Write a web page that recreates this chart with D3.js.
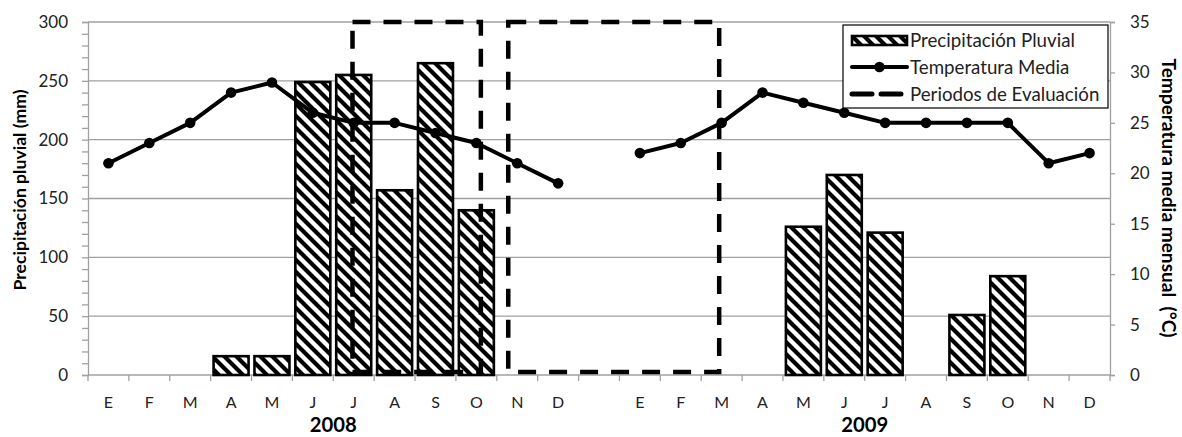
<!DOCTYPE html>
<html>
<head>
<meta charset="utf-8">
<script src="https://cdn.jsdelivr.net/npm/d3@7"></script>
<style>
  html, body { margin: 0; padding: 0; background: #fff; }
  svg { display: block; font-family: Lato, "Open Sans", sans-serif; }
</style>
</head>
<body>
<svg id="chart" width="1182" height="437"></svg>
<script>
// Monthly series, 2008 and 2009 (one empty slot separates the two years on the axis)
const months = ["E", "F", "M", "A", "M", "J", "J", "A", "S", "O", "N", "D"];
const years = ["2008", "2009"];
const precip2008 = [0, 0, 0, 16, 16, 249, 255, 157, 265, 140, 0, 0];
const precip2009 = [0, 0, 0, 0, 126, 170, 121, 0, 51, 84, 0, 0];
const temp2008 = [21, 23, 25, 28, 29, 26, 25, 25, 24, 23, 21, 19];
const temp2009 = [22, 23, 25, 28, 27, 26, 25, 25, 25, 25, 21, 22];

// Evaluation periods, in slot units along the month axis and °C on the right axis
const periodStart = [6.47, 10.28];
const periodEnd = [9.61, 15.44];
const periodLow = [0.3, 0.3];
const periodHigh = [35, 35];

const leftTicks = [0, 50, 100, 150, 200, 250, 300];
const rightTicks = [0, 5, 10, 15, 20, 25, 30, 35];
const legendLabels = ["Precipitación Pluvial", "Temperatura Media", "Periodos de Evaluación"];

// Build the 25 axis slots: 12 months, a blank gap, 12 months
const slots = [];
months.forEach((m, i) => slots.push({ key: "a" + i, label: m, precip: precip2008[i], temp: temp2008[i] }));
slots.push({ key: "gap", label: "", precip: null, temp: null });
months.forEach((m, i) => slots.push({ key: "b" + i, label: m, precip: precip2009[i], temp: temp2009[i] }));

const svg = d3.select("#chart");
const L = 88, R = 1110, T = 22, B = 375;
const axisGray = "#a0a0a0";
const textColor = "#222";

const x = d3.scaleBand().domain(slots.map(d => d.key)).range([L, R]).padding(0);
const xPos = d3.scaleLinear().domain([0, slots.length]).range([L, R]);
const yP = d3.scaleLinear().domain([0, 300]).range([B, T]);
const yT = d3.scaleLinear().domain([0, 35]).range([B, T]);

// Scale a text element's font so its run has the given length
function fitText(sel, len) {
  sel.each(function () {
    const w = this.getComputedTextLength();
    const fs = parseFloat(d3.select(this).attr("font-size"));
    if (w > 0) d3.select(this).attr("font-size", (fs * len / w).toFixed(2));
  });
}

// Diagonal hatch used by the rainfall bars
const defs = svg.append("defs");
const pat = defs.append("pattern")
  .attr("id", "hatch").attr("patternUnits", "userSpaceOnUse")
  .attr("width", 12).attr("height", 12);
pat.append("rect").attr("width", 12).attr("height", 12).attr("fill", "#fff");
pat.append("path")
  .attr("d", "M-3,-3 L15,15 M-3,9 L3,15 M9,-3 L15,3")
  .attr("stroke", "#000").attr("stroke-width", 4.2);

// Horizontal gridlines from the rainfall axis
svg.append("g").selectAll("line").data(leftTicks.filter(v => v > 0)).join("line")
  .attr("x1", L).attr("x2", R)
  .attr("y1", d => yP(d)).attr("y2", d => yP(d))
  .attr("stroke", axisGray).attr("stroke-width", 1.3);

// Left axis
const gL = svg.append("g").attr("transform", `translate(${L},0)`)
  .call(d3.axisLeft(yP).tickValues(d3.range(0, 301, 10)).tickSize(6).tickFormat(""));
gL.select(".domain").attr("stroke", axisGray).attr("stroke-width", 1.3);
gL.selectAll(".tick line").attr("stroke", axisGray).attr("stroke-width", 1.3);
svg.append("g").selectAll("text").data(leftTicks).join("text")
  .attr("x", L - 20).attr("y", d => yP(d)).attr("dy", "0.35em")
  .attr("text-anchor", "end").attr("font-size", 17).attr("fill", textColor)
  .text(d => d);

// Right axis
const gR = svg.append("g").attr("transform", `translate(${R},0)`)
  .call(d3.axisRight(yT).tickValues(rightTicks).tickSize(5).tickFormat(""));
gR.select(".domain").attr("stroke", axisGray).attr("stroke-width", 1.3);
gR.selectAll(".tick line").attr("stroke", axisGray).attr("stroke-width", 1.3);
svg.append("g").selectAll("text").data(rightTicks).join("text")
  .attr("x", R + 20).attr("y", d => yT(d)).attr("dy", "0.35em")
  .attr("text-anchor", "start").attr("font-size", 17).attr("fill", textColor)
  .text(d => d);

// Bottom axis with ticks at slot boundaries
svg.append("line").attr("x1", L).attr("x2", R).attr("y1", B).attr("y2", B)
  .attr("stroke", axisGray).attr("stroke-width", 1.3);
svg.append("g").selectAll("line").data(d3.range(slots.length + 1)).join("line")
  .attr("x1", d => xPos(d)).attr("x2", d => xPos(d))
  .attr("y1", B).attr("y2", B + 6)
  .attr("stroke", axisGray).attr("stroke-width", 1.3);
svg.append("g").selectAll("text").data(slots).join("text")
  .attr("x", d => x(d.key) + x.bandwidth() / 2).attr("y", 402).attr("dy", "0.35em")
  .attr("text-anchor", "middle").attr("font-size", 16).attr("fill", textColor)
  .text(d => d.label);

// Year labels centred between the two J months of each year
svg.append("g").selectAll("text").data(years).join("text")
  .attr("x", (d, i) => xPos(i * 13 + 6)).attr("y", 425).attr("dy", "0.35em")
  .attr("text-anchor", "middle").attr("font-size", 17).attr("font-weight", "bold")
  .attr("fill", "#000").text(d => d)
  .call(fitText, 47);

// Rainfall bars
const barW = x.bandwidth() * 0.856;
svg.append("g").selectAll("rect").data(slots.filter(d => d.precip > 0)).join("rect")
  .attr("x", d => x(d.key) + (x.bandwidth() - barW) / 2)
  .attr("width", barW)
  .attr("y", d => yP(d.precip))
  .attr("height", d => yP(0) - yP(d.precip))
  .attr("fill", "url(#hatch)").attr("stroke", "#000").attr("stroke-width", 2.6);

// Evaluation period boxes
svg.append("g").selectAll("rect").data(periodStart).join("rect")
  .attr("x", (d, i) => xPos(d))
  .attr("width", (d, i) => xPos(periodEnd[i]) - xPos(d))
  .attr("y", (d, i) => yT(periodHigh[i]))
  .attr("height", (d, i) => yT(periodLow[i]) - yT(periodHigh[i]))
  .attr("fill", "none").attr("stroke", "#000").attr("stroke-width", 4.5)
  .attr("stroke-dasharray", "18,13");

// Mean temperature line (broken over the gap between years)
const line = d3.line()
  .defined(d => d.temp != null)
  .x(d => x(d.key) + x.bandwidth() / 2)
  .y(d => yT(d.temp));
svg.append("path").datum(slots).attr("d", line)
  .attr("fill", "none").attr("stroke", "#000").attr("stroke-width", 4)
  .attr("stroke-linejoin", "round");
svg.append("g").selectAll("circle").data(slots.filter(d => d.temp != null)).join("circle")
  .attr("cx", d => x(d.key) + x.bandwidth() / 2).attr("cy", d => yT(d.temp))
  .attr("r", 5.3).attr("fill", "#000");

// Axis titles
svg.append("text")
  .attr("transform", `translate(20,190) rotate(-90)`)
  .attr("dy", "0.35em").attr("text-anchor", "middle")
  .attr("font-size", 16).attr("font-weight", "bold").attr("fill", "#000")
  .text("Precipitación pluvial (mm)")
  .call(fitText, 201);
svg.append("text")
  .attr("transform", `translate(1169,198) rotate(90)`)
  .attr("dy", "0.35em").attr("text-anchor", "middle")
  .attr("font-size", 16).attr("font-weight", "bold").attr("fill", "#000")
  .attr("xml:space", "preserve").style("white-space", "pre")
  .text("Temperatura media mensual  (°C)")
  .call(fitText, 279);

// Legend
const lg = svg.append("g");
lg.append("rect").attr("x", 843).attr("y", 25).attr("width", 265).attr("height", 83)
  .attr("fill", "#fff").attr("stroke", "#000").attr("stroke-width", 1.2);
const rows = [40, 67, 94];
lg.append("rect").attr("x", 852).attr("y", 36).attr("width", 55).attr("height", 9)
  .attr("fill", "url(#hatch)").attr("stroke", "#000").attr("stroke-width", 2.6);
lg.append("line").attr("x1", 852).attr("x2", 907).attr("y1", rows[1]).attr("y2", rows[1])
  .attr("stroke", "#000").attr("stroke-width", 4).attr("stroke-linecap", "round");
lg.append("circle").attr("cx", 879.5).attr("cy", rows[1]).attr("r", 5.3).attr("fill", "#000");
lg.append("line").attr("x1", 852).attr("x2", 903).attr("y1", rows[2]).attr("y2", rows[2])
  .attr("stroke", "#000").attr("stroke-width", 5).attr("stroke-linecap", "round")
  .attr("stroke-dasharray", "20,9");
const lt = lg.selectAll("text.lab").data(legendLabels)
  .join("text").attr("class", "lab")
  .attr("x", 910).attr("y", (d, i) => rows[i]).attr("dy", "0.35em")
  .attr("font-size", 17).attr("fill", textColor).text(d => d);
// Same font size for all three entries, sized from the first one
fitText(lt.filter((d, i) => i === 0), 165);
lt.attr("font-size", lt.filter((d, i) => i === 0).attr("font-size"));
</script>
</body>
</html>
